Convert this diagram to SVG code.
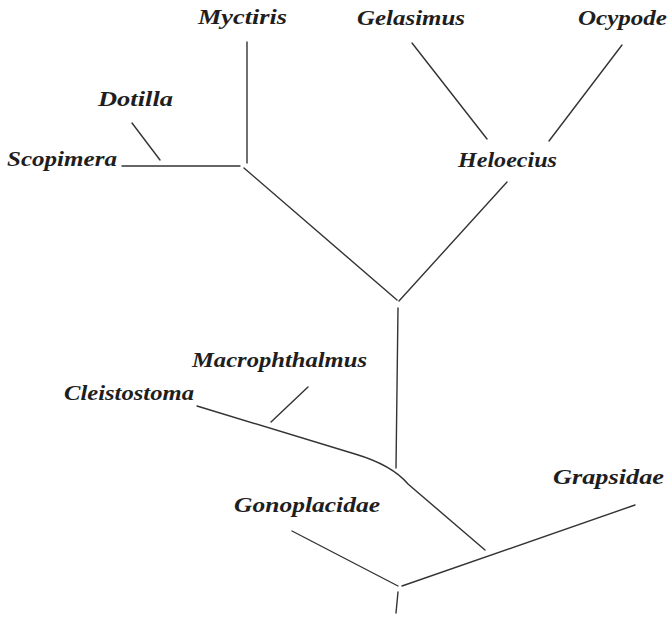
<svg xmlns="http://www.w3.org/2000/svg" width="670" height="625" viewBox="0 0 670 625">
<style>
text{font-family:"Liberation Serif","Times New Roman",serif;font-style:italic;font-weight:bold;font-size:21px;fill:#1e1e1e}
.e{stroke:#333;stroke-width:1.4;fill:none;stroke-linecap:round}
</style>
<rect width="670" height="625" fill="#fff"/>
<g id="connectors">
<line class="e" x1="247" y1="42" x2="247" y2="163"/>
<line class="e" x1="132" y1="123" x2="160" y2="160"/>
<line class="e" x1="122" y1="166" x2="240" y2="166"/>
<line class="e" x1="244" y1="168" x2="397" y2="300"/>
<line class="e" x1="412" y1="43" x2="487" y2="139"/>
<line class="e" x1="622" y1="45" x2="549" y2="141"/>
<line class="e" x1="507" y1="182" x2="399" y2="301"/>
<line class="e" x1="398" y1="308" x2="396" y2="468"/>
<line class="e" x1="308" y1="387" x2="271" y2="422"/>
<path class="e" d="M197,406 L355,454 Q392,465 408,484 L485,550"/>
<line class="e" x1="292" y1="531" x2="398" y2="586"/>
<line class="e" x1="402" y1="586" x2="635" y2="505"/>
<line class="e" x1="398" y1="592" x2="396" y2="613"/>
</g>
<g id="myctiris"><text x="198" y="24" textLength="89" lengthAdjust="spacingAndGlyphs">Myctiris</text></g>
<g id="dotilla"><text x="98" y="106" textLength="75" lengthAdjust="spacingAndGlyphs">Dotilla</text></g>
<g id="scopimera"><text x="7" y="166" textLength="110" lengthAdjust="spacingAndGlyphs">Scopimera</text></g>
<g id="gelasimus"><text x="357" y="25" textLength="108" lengthAdjust="spacingAndGlyphs">Gelasimus</text></g>
<g id="ocypode"><text x="578" y="25" textLength="89" lengthAdjust="spacingAndGlyphs">Ocypode</text></g>
<g id="heloecius"><text x="458" y="167" textLength="99" lengthAdjust="spacingAndGlyphs">Heloecius</text></g>
<g id="macrophthalmus"><text x="192" y="367" textLength="175" lengthAdjust="spacingAndGlyphs">Macrophthalmus</text></g>
<g id="cleistostoma"><text x="64" y="400" textLength="130" lengthAdjust="spacingAndGlyphs">Cleistostoma</text></g>
<g id="gonoplacidae"><text x="234" y="512" textLength="146" lengthAdjust="spacingAndGlyphs">Gonoplacidae</text></g>
<g id="grapsidae"><text x="553" y="484" textLength="111" lengthAdjust="spacingAndGlyphs">Grapsidae</text></g>
</svg>
